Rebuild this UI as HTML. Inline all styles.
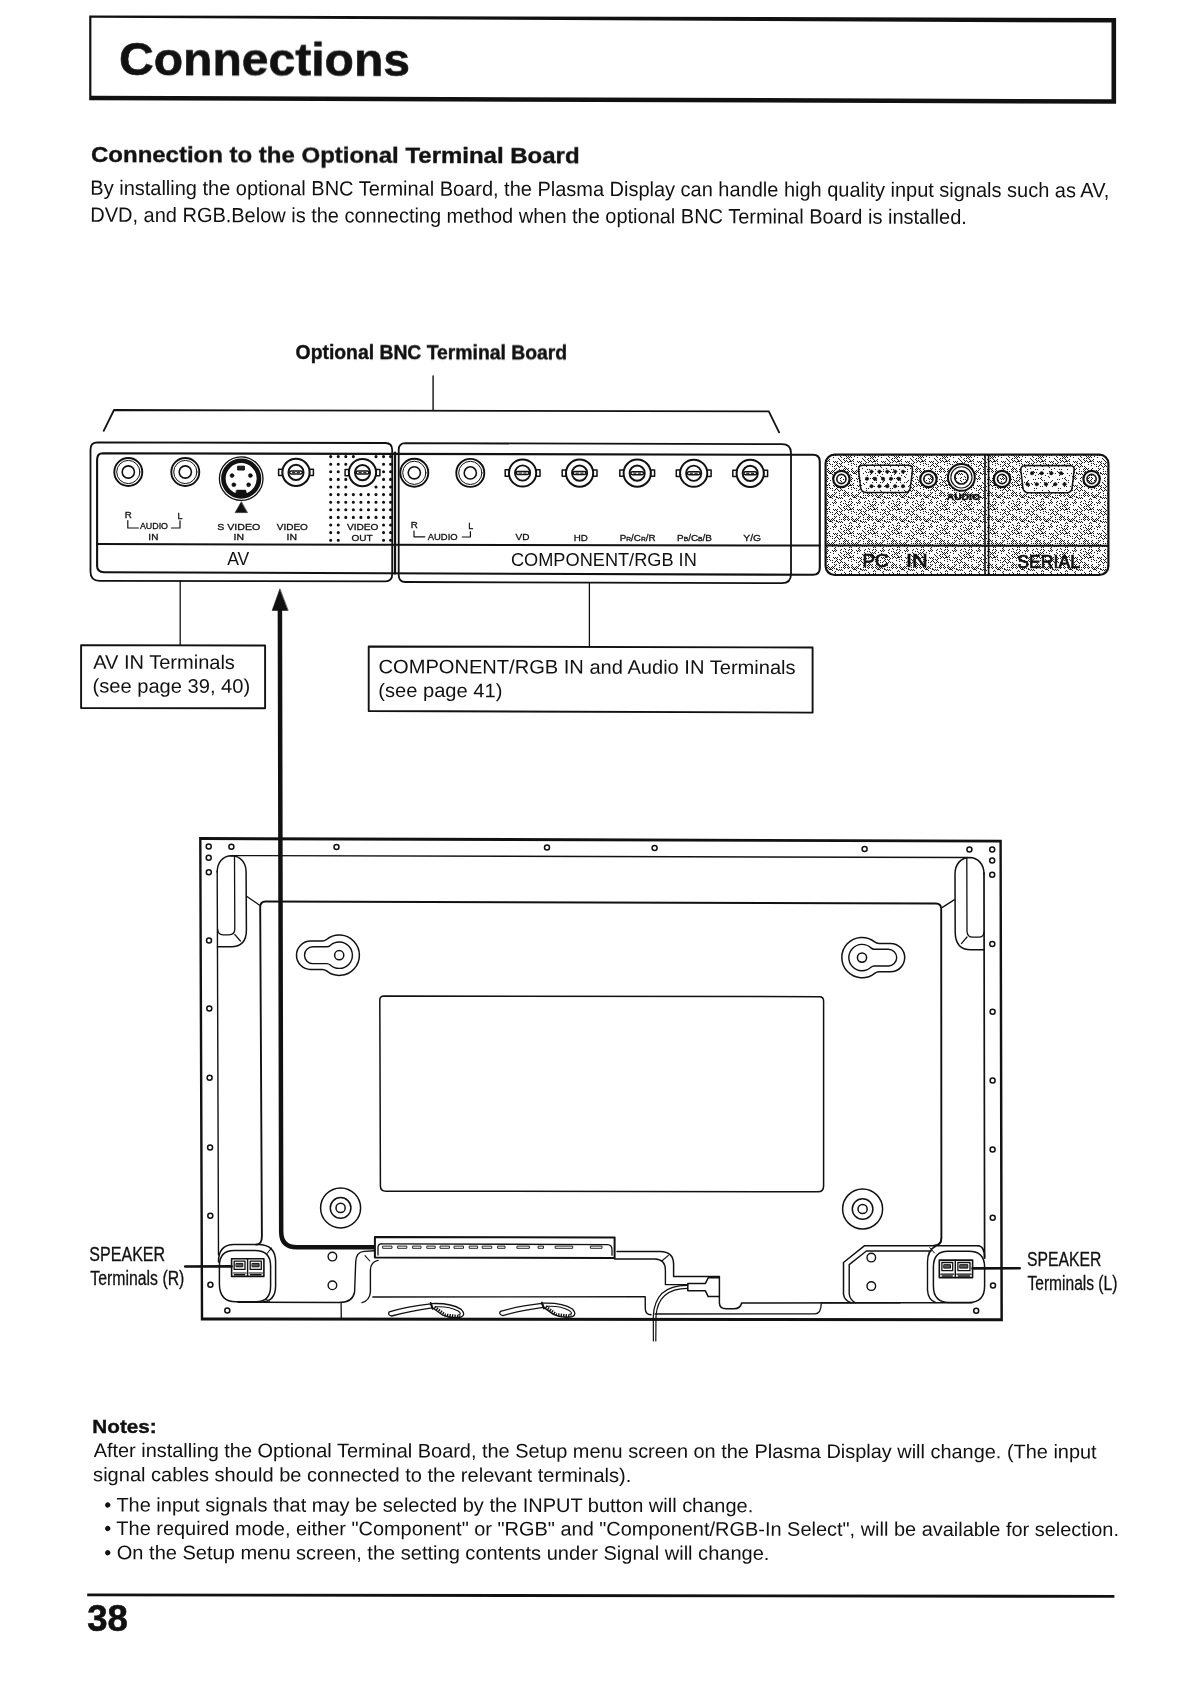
<!DOCTYPE html>
<html lang="en"><head><meta charset="utf-8"><title>Connections</title>
<style>
html,body{margin:0;padding:0;background:#fff;}
body{width:1191px;height:1683px;overflow:hidden;}
svg{display:block;font-family:"Liberation Sans",Arial,Helvetica,sans-serif;}
</style></head><body>
<svg width="1191" height="1683" viewBox="0 0 1191 1683">
<defs>
<pattern id="dither" width="24" height="24" patternUnits="userSpaceOnUse"><rect width="24" height="24" fill="#fcfcfc"/><path d="M0 0h1v1h-1zM6 0h1v1h-1zM8 0h1v1h-1zM10 0h1v1h-1zM14 0h1v1h-1zM1 1h1v1h-1zM7 1h1v1h-1zM9 1h1v1h-1zM11 1h1v1h-1zM17 1h1v1h-1zM4 2h1v1h-1zM6 2h1v1h-1zM8 2h1v1h-1zM22 2h1v1h-1zM3 3h1v1h-1zM9 3h1v1h-1zM13 3h1v1h-1zM23 3h1v1h-1zM0 4h1v1h-1zM4 4h1v1h-1zM6 4h1v1h-1zM10 4h1v1h-1zM12 4h1v1h-1zM1 5h1v1h-1zM5 5h1v1h-1zM7 5h1v1h-1zM9 5h1v1h-1zM10 5h1v1h-1zM11 5h1v1h-1zM13 5h1v1h-1zM17 5h1v1h-1zM19 5h1v1h-1zM21 5h1v1h-1zM2 6h1v1h-1zM4 6h1v1h-1zM8 6h1v1h-1zM18 6h1v1h-1zM20 6h1v1h-1zM1 7h1v1h-1zM11 7h1v1h-1zM13 7h1v1h-1zM21 7h1v1h-1zM23 7h1v1h-1zM0 8h1v1h-1zM8 8h1v1h-1zM14 8h1v1h-1zM16 8h1v1h-1zM20 8h1v1h-1zM1 9h1v1h-1zM11 9h1v1h-1zM19 9h1v1h-1zM21 9h1v1h-1zM0 10h1v1h-1zM2 10h1v1h-1zM4 10h1v1h-1zM16 10h1v1h-1zM18 10h1v1h-1zM22 10h1v1h-1zM5 11h1v1h-1zM23 11h1v1h-1zM4 12h1v1h-1zM6 12h1v1h-1zM8 12h1v1h-1zM12 12h1v1h-1zM18 12h1v1h-1zM20 12h1v1h-1zM3 13h1v1h-1zM5 13h1v1h-1zM7 13h1v1h-1zM11 13h1v1h-1zM19 13h1v1h-1zM23 13h1v1h-1zM4 14h1v1h-1zM8 14h1v1h-1zM12 14h1v1h-1zM16 14h1v1h-1zM18 14h1v1h-1zM1 15h1v1h-1zM3 15h1v1h-1zM5 15h1v1h-1zM7 15h1v1h-1zM9 15h1v1h-1zM11 15h1v1h-1zM13 15h1v1h-1zM15 15h1v1h-1zM17 15h1v1h-1zM23 15h1v1h-1zM4 16h1v1h-1zM8 16h1v1h-1zM12 16h1v1h-1zM14 16h1v1h-1zM16 16h1v1h-1zM18 16h1v1h-1zM20 16h1v1h-1zM1 17h1v1h-1zM13 17h1v1h-1zM14 17h1v1h-1zM15 17h1v1h-1zM20 17h1v1h-1zM21 17h1v1h-1zM23 17h1v1h-1zM0 18h1v1h-1zM2 18h1v1h-1zM10 18h1v1h-1zM16 18h1v1h-1zM22 18h1v1h-1zM9 19h1v1h-1zM11 19h1v1h-1zM19 19h1v1h-1zM4 20h1v1h-1zM18 20h1v1h-1zM1 21h1v1h-1zM5 21h1v1h-1zM9 21h1v1h-1zM11 21h1v1h-1zM19 21h1v1h-1zM0 22h1v1h-1zM8 22h1v1h-1zM12 22h1v1h-1zM16 22h1v1h-1zM18 22h1v1h-1zM20 22h1v1h-1zM3 23h1v1h-1zM5 23h1v1h-1zM11 23h1v1h-1zM17 23h1v1h-1zM19 23h1v1h-1z" fill="#1a1a1a" shape-rendering="crispEdges"/></pattern><pattern id="dither2" width="24" height="24" patternUnits="userSpaceOnUse"><rect width="24" height="24" fill="#fcfcfc"/><path d="M10 0h1v1h-1zM12 0h1v1h-1zM20 0h1v1h-1zM19 1h1v1h-1zM2 2h1v1h-1zM8 2h1v1h-1zM12 2h1v1h-1zM16 2h1v1h-1zM18 2h1v1h-1zM23 3h1v1h-1zM0 4h1v1h-1zM21 5h1v1h-1zM8 6h1v1h-1zM10 6h1v1h-1zM14 6h1v1h-1zM20 6h1v1h-1zM2 8h1v1h-1zM4 8h1v1h-1zM2 10h1v1h-1zM10 10h1v1h-1zM16 10h1v1h-1zM17 11h1v1h-1zM22 12h1v1h-1zM3 13h1v1h-1zM5 13h1v1h-1zM11 13h1v1h-1zM19 13h1v1h-1zM1 15h1v1h-1zM17 15h1v1h-1zM19 15h1v1h-1zM2 16h1v1h-1zM4 16h1v1h-1zM7 17h1v1h-1zM11 17h1v1h-1zM15 17h1v1h-1zM23 17h1v1h-1zM6 18h1v1h-1zM18 18h1v1h-1zM3 19h1v1h-1zM13 19h1v1h-1zM16 20h1v1h-1zM9 21h1v1h-1zM17 21h1v1h-1zM6 22h1v1h-1zM8 22h1v1h-1zM1 23h1v1h-1zM3 23h1v1h-1zM9 23h1v1h-1z" fill="#1a1a1a" shape-rendering="crispEdges"/></pattern>
</defs>
<g stroke="#111" fill="none" stroke-linecap="round" stroke-linejoin="round">
<path d="M89.2 15.4 L1116.1 18 L1116.1 103.8 L89.2 100.2 Z M91.4 17.8 L91.4 95.8 L1111.5 99.3 L1111.5 22.6 Z" fill="#111" fill-rule="evenodd" stroke="none"/>
<line x1="433.1" y1="376" x2="433.1" y2="410" stroke-width="1.4"/>
<path d="M103.7 430.8 L114 410 L768.8 411.4 L779.1 432.3" stroke-width="1.8"/>
<path d="M97.5 442.4 L385.5 443 Q392.2 443 392.2 450 L392.2 574 Q392.2 581.3 385.5 581.3 L99.5 580.8 Q90.5 580.8 90.5 572 L90.5 449.5 Q90.5 442.4 97.5 442.4 Z" stroke-width="1.8"/>
<path d="M103 453.3 L813 454.8 Q819.8 454.8 819.8 461.5 L819.8 568 Q819.8 574.8 813 574.8 L104 572.2 Q97.1 572.2 97.1 566 L97.1 459.5 Q97.1 453.3 103 453.3 Z" stroke-width="2.1"/>
<line x1="97.1" y1="544.1" x2="819.8" y2="545.6" stroke-width="2"/>
<line x1="395" y1="452.6" x2="395" y2="573.6" stroke-width="2.3"/>
<circle cx="128.3" cy="472" r="14" stroke-width="1.9"/>
<circle cx="128.3" cy="472" r="11.6" stroke-width="1.0"/>
<circle cx="128.3" cy="472" r="6.1" stroke-width="1.6"/>
<circle cx="185.3" cy="472" r="14" stroke-width="1.9"/>
<circle cx="185.3" cy="472" r="11.6" stroke-width="1.0"/>
<circle cx="185.3" cy="472" r="6.1" stroke-width="1.6"/>
<circle cx="241.2" cy="478.6" r="21.8" stroke-width="1.3"/>
<circle cx="241.2" cy="478.6" r="17.8" stroke-width="4.6"/>
<circle cx="232" cy="475.6" r="2" stroke-width="0.5" fill="#111"/>
<circle cx="250.4" cy="475.6" r="2" stroke-width="0.5" fill="#111"/>
<circle cx="233.8" cy="484.8" r="2" stroke-width="0.5" fill="#111"/>
<circle cx="248.6" cy="484.8" r="2" stroke-width="0.5" fill="#111"/>
<rect x="238" y="466.2" width="6.4" height="3.8" stroke-width="1" fill="#222"/>
<path d="M236.7 490.1 L245.7 490.1 L247.2 495.6 L235.2 495.6 Z" stroke-width="0.5" fill="#111"/>
<path d="M241.2 502 L235.2 512.6 L247.2 512.6 Z" stroke-width="0.6" fill="#111"/>
<path d="M330.7 456.6h0M338.25 456.6h0M345.8 456.6h0M353.35 456.6h0M376 456.6h0M383.55 456.6h0M330.7 464.2h0M338.25 464.2h0M345.8 464.2h0M383.55 464.2h0M330.7 471.8h0M338.25 471.8h0M383.55 471.8h0M330.7 479.4h0M338.25 479.4h0M345.8 479.4h0M383.55 479.4h0M330.7 487h0M338.25 487h0M345.8 487h0M376 487h0M383.55 487h0M330.7 494.6h0M338.25 494.6h0M345.8 494.6h0M353.35 494.6h0M360.9 494.6h0M368.45 494.6h0M376 494.6h0M383.55 494.6h0M330.7 502.2h0M338.25 502.2h0M345.8 502.2h0M353.35 502.2h0M360.9 502.2h0M368.45 502.2h0M376 502.2h0M383.55 502.2h0M330.7 509.8h0M338.25 509.8h0M345.8 509.8h0M353.35 509.8h0M360.9 509.8h0M368.45 509.8h0M376 509.8h0M383.55 509.8h0M330.7 517.4h0M338.25 517.4h0M345.8 517.4h0M353.35 517.4h0M360.9 517.4h0M368.45 517.4h0M376 517.4h0M383.55 517.4h0M330.7 525h0M338.25 525h0M383.55 525h0M330.7 532.6h0M338.25 532.6h0M383.55 532.6h0M330.7 540.2h0M338.25 540.2h0M383.55 540.2h0M390.6 456.6h0M390.6 464.2h0M390.6 471.8h0M390.6 479.4h0M390.6 487h0M390.6 494.6h0M390.6 502.2h0M390.6 509.8h0M390.6 517.4h0M390.6 525h0M390.6 532.6h0M390.6 540.2h0" stroke-width="3.1" stroke-linecap="round"/>
<rect x="278.6" y="469.2" width="4" height="6.4" stroke-width="1.5"/>
<rect x="309.4" y="469.2" width="4" height="6.4" stroke-width="1.5"/>
<circle cx="296" cy="472.4" r="13.6" stroke-width="2.0" fill="#fff"/>
<circle cx="296" cy="472.4" r="7.6" stroke-width="1.9"/>
<rect x="289.7" y="470.9" width="12.6" height="3" rx="1.4" stroke-width="1.5"/>
<line x1="292.5" y1="472.4" x2="294.8" y2="472.4" stroke-width="1.0"/>
<line x1="297.2" y1="472.4" x2="299.5" y2="472.4" stroke-width="1.0"/>
<rect x="345.1" y="469.4" width="4" height="6.4" stroke-width="1.5"/>
<rect x="375.9" y="469.4" width="4" height="6.4" stroke-width="1.5"/>
<circle cx="362.5" cy="472.6" r="13.6" stroke-width="2.0" fill="#fff"/>
<circle cx="362.5" cy="472.6" r="7.6" stroke-width="1.9"/>
<rect x="356.2" y="471.1" width="12.6" height="3" rx="1.4" stroke-width="1.5"/>
<line x1="359" y1="472.6" x2="361.3" y2="472.6" stroke-width="1.0"/>
<line x1="363.7" y1="472.6" x2="366" y2="472.6" stroke-width="1.0"/>
<path d="M127.8 520.6 L127.8 528 L138.4 528" stroke-width="1.2"/>
<path d="M171.5 528 L180 528 L180 520.8" stroke-width="1.2"/>
<path d="M405.5 443.2 L782 444.2 Q791 444.2 791 453 L791 574 Q791 583.2 782 583.2 L405.5 582 Q398.7 582 398.7 575 L398.7 450 Q398.7 443.2 405.5 443.2 Z" stroke-width="1.8"/>
<circle cx="414.3" cy="472.8" r="14" stroke-width="1.9"/>
<circle cx="414.3" cy="472.8" r="11.6" stroke-width="1.0"/>
<circle cx="414.3" cy="472.8" r="6.1" stroke-width="1.6"/>
<circle cx="470.3" cy="472.9" r="14" stroke-width="1.9"/>
<circle cx="470.3" cy="472.9" r="11.6" stroke-width="1.0"/>
<circle cx="470.3" cy="472.9" r="6.1" stroke-width="1.6"/>
<rect x="505.2" y="469.8" width="4" height="6.4" stroke-width="1.5"/>
<rect x="536" y="469.8" width="4" height="6.4" stroke-width="1.5"/>
<circle cx="522.6" cy="473" r="13.6" stroke-width="2.0" fill="#fff"/>
<circle cx="522.6" cy="473" r="7.6" stroke-width="1.9"/>
<rect x="516.3" y="471.5" width="12.6" height="3" rx="1.4" stroke-width="1.5"/>
<line x1="519.1" y1="473" x2="521.4" y2="473" stroke-width="1.0"/>
<line x1="523.8" y1="473" x2="526.1" y2="473" stroke-width="1.0"/>
<rect x="562.2" y="469.89" width="4" height="6.4" stroke-width="1.5"/>
<rect x="593" y="469.89" width="4" height="6.4" stroke-width="1.5"/>
<circle cx="579.6" cy="473.09" r="13.6" stroke-width="2.0" fill="#fff"/>
<circle cx="579.6" cy="473.09" r="7.6" stroke-width="1.9"/>
<rect x="573.3" y="471.59" width="12.6" height="3" rx="1.4" stroke-width="1.5"/>
<line x1="576.1" y1="473.09" x2="578.4" y2="473.09" stroke-width="1.0"/>
<line x1="580.8" y1="473.09" x2="583.1" y2="473.09" stroke-width="1.0"/>
<rect x="619.8" y="469.97" width="4" height="6.4" stroke-width="1.5"/>
<rect x="650.6" y="469.97" width="4" height="6.4" stroke-width="1.5"/>
<circle cx="637.2" cy="473.17" r="13.6" stroke-width="2.0" fill="#fff"/>
<circle cx="637.2" cy="473.17" r="7.6" stroke-width="1.9"/>
<rect x="630.9" y="471.67" width="12.6" height="3" rx="1.4" stroke-width="1.5"/>
<line x1="633.7" y1="473.17" x2="636" y2="473.17" stroke-width="1.0"/>
<line x1="638.4" y1="473.17" x2="640.7" y2="473.17" stroke-width="1.0"/>
<rect x="676.3" y="470.06" width="4" height="6.4" stroke-width="1.5"/>
<rect x="707.1" y="470.06" width="4" height="6.4" stroke-width="1.5"/>
<circle cx="693.7" cy="473.26" r="13.6" stroke-width="2.0" fill="#fff"/>
<circle cx="693.7" cy="473.26" r="7.6" stroke-width="1.9"/>
<rect x="687.4" y="471.76" width="12.6" height="3" rx="1.4" stroke-width="1.5"/>
<line x1="690.2" y1="473.26" x2="692.5" y2="473.26" stroke-width="1.0"/>
<line x1="694.9" y1="473.26" x2="697.2" y2="473.26" stroke-width="1.0"/>
<rect x="732.8" y="470.14" width="4" height="6.4" stroke-width="1.5"/>
<rect x="763.6" y="470.14" width="4" height="6.4" stroke-width="1.5"/>
<circle cx="750.2" cy="473.34" r="13.6" stroke-width="2.0" fill="#fff"/>
<circle cx="750.2" cy="473.34" r="7.6" stroke-width="1.9"/>
<rect x="743.9" y="471.84" width="12.6" height="3" rx="1.4" stroke-width="1.5"/>
<line x1="746.7" y1="473.34" x2="749" y2="473.34" stroke-width="1.0"/>
<line x1="751.4" y1="473.34" x2="753.7" y2="473.34" stroke-width="1.0"/>
<path d="M414 531 L414 536.8 L424.8 536.8" stroke-width="1.2"/>
<path d="M462.2 537 L470.4 537 L470.4 531.6" stroke-width="1.2"/>
<rect x="825.6" y="454.6" width="282.8" height="120.4" rx="9" stroke-width="2.2" fill="url(#dither)"/>
<line x1="826" y1="545.4" x2="1108" y2="545.8" stroke-width="2.0"/>
<line x1="985" y1="455" x2="985" y2="575" stroke-width="1.6"/>
<line x1="988.6" y1="455" x2="988.6" y2="575" stroke-width="1.6"/>
<circle cx="841.4" cy="479" r="8.2" stroke-width="2.2" fill="#fff"/>
<circle cx="841.4" cy="479" r="4.6" stroke-width="1.6" fill="url(#dither)"/>
<path d="M863 465.3 L908 465.3 Q913 465.3 912.4 470.3 L910.4 487.5 Q909.6 492.5 904.5 492.5 L866.5 492.5 Q861.4 492.5 860.6 487.5 L858.6 470.3 Q858 465.3 863 465.3 Z" stroke-width="1.6" fill="url(#dither2)" stroke-dasharray="2.4 1.2"/>
<circle cx="871.5" cy="471.6" r="1.7" stroke-width="0.5" fill="#111"/>
<circle cx="879.38" cy="471.6" r="1.7" stroke-width="0.5" fill="#111"/>
<circle cx="887.25" cy="471.6" r="1.7" stroke-width="0.5" fill="#111"/>
<circle cx="895.12" cy="471.6" r="1.7" stroke-width="0.5" fill="#111"/>
<circle cx="903" cy="471.6" r="1.7" stroke-width="0.5" fill="#111"/>
<circle cx="867" cy="478.8" r="1.7" stroke-width="0.5" fill="#111"/>
<circle cx="875" cy="478.8" r="1.7" stroke-width="0.5" fill="#111"/>
<circle cx="883" cy="478.8" r="1.7" stroke-width="0.5" fill="#111"/>
<circle cx="891" cy="478.8" r="1.7" stroke-width="0.5" fill="#111"/>
<circle cx="899" cy="478.8" r="1.7" stroke-width="0.5" fill="#111"/>
<circle cx="871.5" cy="486.2" r="1.7" stroke-width="0.5" fill="#111"/>
<circle cx="879.38" cy="486.2" r="1.7" stroke-width="0.5" fill="#111"/>
<circle cx="887.25" cy="486.2" r="1.7" stroke-width="0.5" fill="#111"/>
<circle cx="895.12" cy="486.2" r="1.7" stroke-width="0.5" fill="#111"/>
<circle cx="903" cy="486.2" r="1.7" stroke-width="0.5" fill="#111"/>
<circle cx="928.4" cy="479" r="8.2" stroke-width="2.2" fill="#fff"/>
<circle cx="928.4" cy="479" r="4.6" stroke-width="1.6" fill="url(#dither)"/>
<circle cx="961.4" cy="477.4" r="13.4" stroke-width="2.0" fill="#fff"/>
<circle cx="961.4" cy="477.4" r="10.6" stroke-width="1.1"/>
<circle cx="961.4" cy="477.4" r="6.6" stroke-width="1.7" fill="url(#dither)"/>
<circle cx="1002" cy="479" r="8.2" stroke-width="2.2" fill="#fff"/>
<circle cx="1002" cy="479" r="4.6" stroke-width="1.6" fill="url(#dither)"/>
<path d="M1025.3 465.6 L1069.7 465.6 Q1074.7 465.6 1074.1 470.6 L1072.1 487.8 Q1071.3 492.8 1066.2 492.8 L1028.8 492.8 Q1023.7 492.8 1022.9 487.8 L1020.9 470.6 Q1020.3 465.6 1025.3 465.6 Z" stroke-width="1.6" fill="url(#dither2)" stroke-dasharray="2.4 1.2"/>
<circle cx="1032" cy="473.2" r="1.7" stroke-width="0.5" fill="#111"/>
<circle cx="1041.67" cy="473.2" r="1.7" stroke-width="0.5" fill="#111"/>
<circle cx="1051.33" cy="473.2" r="1.7" stroke-width="0.5" fill="#111"/>
<circle cx="1061" cy="473.2" r="1.7" stroke-width="0.5" fill="#111"/>
<circle cx="1027.5" cy="484.2" r="1.7" stroke-width="0.5" fill="#111"/>
<circle cx="1036.75" cy="484.2" r="1.7" stroke-width="0.5" fill="#111"/>
<circle cx="1046" cy="484.2" r="1.7" stroke-width="0.5" fill="#111"/>
<circle cx="1055.25" cy="484.2" r="1.7" stroke-width="0.5" fill="#111"/>
<circle cx="1064.5" cy="484.2" r="1.7" stroke-width="0.5" fill="#111"/>
<circle cx="1091.6" cy="479" r="8.2" stroke-width="2.2" fill="#fff"/>
<circle cx="1091.6" cy="479" r="4.6" stroke-width="1.6" fill="url(#dither)"/>
<line x1="180.2" y1="581" x2="180.2" y2="645" stroke-width="1.3"/>
<path d="M81.1 645.1 L265.1 645.5 L265.1 708.3 L81.1 708 Z" stroke-width="1.9"/>
<line x1="589.4" y1="583" x2="589.4" y2="646.8" stroke-width="1.3"/>
<path d="M368.7 646.5 L812.6 647.5 L812.6 712.6 L368.7 711 Z" stroke-width="1.9"/>
<path d="M279.9 608 L281.2 1232 Q281.3 1247.3 297 1247.3 L375 1247.3" stroke-width="4.5" stroke-linecap="butt"/>
<path d="M279.8 589.2 L272.2 610.4 L287.8 610.4 Z" stroke-width="0.6" fill="#111"/>
<path d="M199.1 837.1 L1001.8 839.7 L1002.9 1321.2 L200.8 1320.4 Z M201.5 840.1 L203.2 1317.4 L1000.4 1318.2 L999.4 842.6 Z" fill="#111" fill-rule="evenodd" stroke="none"/>
<circle cx="208.7" cy="846.6" r="2.5" stroke-width="1.5"/>
<circle cx="231.4" cy="846.7" r="2.5" stroke-width="1.5"/>
<circle cx="336.5" cy="847.1" r="2.5" stroke-width="1.5"/>
<circle cx="547" cy="847.6" r="2.5" stroke-width="1.5"/>
<circle cx="654.6" cy="848.1" r="2.5" stroke-width="1.5"/>
<circle cx="864.6" cy="849" r="2.5" stroke-width="1.5"/>
<circle cx="969.4" cy="849.5" r="2.5" stroke-width="1.5"/>
<circle cx="992.2" cy="849.5" r="2.5" stroke-width="1.5"/>
<circle cx="208.7" cy="857.8" r="2.5" stroke-width="1.5"/>
<circle cx="208.8" cy="872.3" r="2.5" stroke-width="1.5"/>
<circle cx="209" cy="940.4" r="2.5" stroke-width="1.5"/>
<circle cx="209.3" cy="1008.6" r="2.5" stroke-width="1.5"/>
<circle cx="209.6" cy="1077.8" r="2.5" stroke-width="1.5"/>
<circle cx="210.1" cy="1147.6" r="2.5" stroke-width="1.5"/>
<circle cx="210.3" cy="1215.8" r="2.5" stroke-width="1.5"/>
<circle cx="210.4" cy="1284.8" r="2.5" stroke-width="1.5"/>
<circle cx="227.3" cy="1310.5" r="2.5" stroke-width="1.5"/>
<circle cx="992.2" cy="860.6" r="2.5" stroke-width="1.5"/>
<circle cx="992.2" cy="874.7" r="2.5" stroke-width="1.5"/>
<circle cx="992.3" cy="943.9" r="2.5" stroke-width="1.5"/>
<circle cx="992.6" cy="1011.7" r="2.5" stroke-width="1.5"/>
<circle cx="992.6" cy="1080.4" r="2.5" stroke-width="1.5"/>
<circle cx="992.6" cy="1149.5" r="2.5" stroke-width="1.5"/>
<circle cx="992.7" cy="1217.8" r="2.5" stroke-width="1.5"/>
<circle cx="993" cy="1285.6" r="2.5" stroke-width="1.5"/>
<circle cx="976.2" cy="1310.8" r="2.5" stroke-width="1.5"/>
<path d="M231 855.6 L967.5 857.5" stroke-width="1.4"/>
<path d="M217.2 871 L218.5 1255" stroke-width="1.4"/>
<path d="M984 873 L984.6 1258" stroke-width="1.7"/>
<path d="M217.2 872 C217.2 862 223 855.8 231.6 855.7 C240 855.8 246.1 862 246.1 872 L246.4 930 Q246.4 946.8 231 946.8 L217.4 946.8" stroke-width="1.5"/>
<path d="M234.5 856 L234.8 929 Q234.8 934.8 229 934.8 L223 934.8 Q218 934.8 217.6 929" stroke-width="1.3"/>
<line x1="234.8" y1="934.5" x2="240.4" y2="941" stroke-width="1.2"/>
<path d="M246.6 896.2 L259.6 905.2" stroke-width="1.3"/>
<path d="M256 1244.6 Q262 1244.6 261.9 1236 L260.2 907 Q260.2 901.6 265.5 901.5 L936 903.5 Q941.2 903.6 941.2 909 L941.4 1238 Q941.4 1245.4 934 1245.6" stroke-width="1.9"/>
<path d="M942 907.6 L954.5 899.6" stroke-width="1.3"/>
<path d="M984 874 C984 864 978 857.8 969.4 857.6 C961 857.8 955 864 955 874 L955.2 932 Q955.2 949.8 971 949.8 L984.2 949.8" stroke-width="1.5"/>
<path d="M966.8 858 L967 931 Q967 937.2 973 937.2 L979 937.2 Q983.6 937.2 984 932" stroke-width="1.3"/>
<line x1="967" y1="937" x2="961.4" y2="943.6" stroke-width="1.2"/>
<path d="M322.16 941 L310.7 941 A14.2 14.2 0 0 0 310.7 969.4 L322.16 969.4 A7 7 0 0 1 326.54 970.94 A20.2 20.2 0 1 0 326.54 939.46 A7 7 0 0 1 322.16 941 Z" stroke-width="1.5"/>
<path d="M326.88 946.8 L312.9 946.8 A8.4 8.4 0 0 0 312.9 963.6 L326.88 963.6 A5 5 0 0 1 330.27 964.92 A13.2 13.2 0 1 0 330.27 945.48 A5 5 0 0 1 326.88 946.8 Z" stroke-width="1.4"/>
<circle cx="339.2" cy="955.2" r="4.6" stroke-width="1.5"/>
<path d="M879.04 943.4 L890.5 943.4 A14.2 14.2 0 0 1 890.5 971.8 L879.04 971.8 A7 7 0 0 0 874.66 973.34 A20.2 20.2 0 1 1 874.66 941.86 A7 7 0 0 0 879.04 943.4 Z" stroke-width="1.5"/>
<path d="M874.32 949.2 L888.3 949.2 A8.4 8.4 0 0 1 888.3 966 L874.32 966 A5 5 0 0 0 870.93 967.32 A13.2 13.2 0 1 1 870.93 947.88 A5 5 0 0 0 874.32 949.2 Z" stroke-width="1.4"/>
<circle cx="862" cy="957.6" r="4.6" stroke-width="1.5"/>
<path d="M384 995.9 L819.5 996.7 Q823.6 996.8 823.6 1001 L823.6 1186 Q823.6 1191.8 818 1191.8 L386 1191.2 Q380.4 1191.2 380.4 1186 L379.8 1000 Q379.8 995.9 384 995.9 Z" stroke-width="1.5"/>
<circle cx="340.6" cy="1207.9" r="20" stroke-width="1.5"/>
<circle cx="340.6" cy="1207.9" r="10.3" stroke-width="1.5"/>
<circle cx="340.6" cy="1207.9" r="4.6" stroke-width="1.5"/>
<circle cx="862.6" cy="1209" r="20" stroke-width="1.5"/>
<circle cx="862.6" cy="1209" r="10.3" stroke-width="1.5"/>
<circle cx="862.6" cy="1209" r="4.6" stroke-width="1.5"/>
<path d="M374.9 1237.1 L614.6 1237.4 L614.6 1257.9 L374.9 1257.6 Z" stroke-width="2.0"/>
<path d="M381.5 1243.8 L607.5 1244.6 Q612 1244.8 612 1249.5 L612 1255.2" stroke-width="1.3"/>
<path d="M378 1255 L378 1247.5 Q378 1243.8 381.5 1243.8" stroke-width="1.3"/>
<rect x="383" y="1246.1" width="9" height="2.2" stroke-width="0.9"/>
<rect x="398" y="1246.1" width="8.8" height="2.2" stroke-width="0.9"/>
<rect x="413" y="1246.1" width="8" height="2.2" stroke-width="0.9"/>
<rect x="427.2" y="1246.1" width="8" height="2.2" stroke-width="0.9"/>
<rect x="440.4" y="1246.1" width="9" height="2.2" stroke-width="0.9"/>
<rect x="454.4" y="1246.1" width="9.1" height="2.2" stroke-width="0.9"/>
<rect x="469.6" y="1246.1" width="8" height="2.2" stroke-width="0.9"/>
<rect x="482.6" y="1246.1" width="9.1" height="2.2" stroke-width="0.9"/>
<rect x="498" y="1246.1" width="7" height="2.2" stroke-width="0.9"/>
<rect x="517.3" y="1246.1" width="12.1" height="2.2" stroke-width="0.9"/>
<rect x="538.5" y="1246.1" width="5" height="2.2" stroke-width="0.9"/>
<rect x="555.6" y="1246.1" width="17.1" height="2.2" stroke-width="0.9"/>
<rect x="590.8" y="1246.1" width="11.2" height="2.2" stroke-width="0.9"/>
<circle cx="332.4" cy="1256.6" r="4.3" stroke-width="1.4"/>
<circle cx="332.4" cy="1285.3" r="4.3" stroke-width="1.4"/>
<circle cx="871.3" cy="1257.6" r="4.3" stroke-width="1.4"/>
<circle cx="871.3" cy="1286.1" r="4.3" stroke-width="1.4"/>
<path d="M218.5 1262 Q218.5 1244.6 234 1244.6 L258 1244.6 Q275.6 1244.6 275.6 1262 L275.6 1286 Q275.6 1302.2 260 1302.2" stroke-width="1.5"/>
<path d="M219.4 1266 Q219.4 1250.4 234 1250.4 L255 1250.4 Q270.6 1250.4 270.6 1266 L270.6 1286 Q270.6 1301.8 256 1301.8 L236 1301.8 Q219.4 1301.8 219.4 1284 Z" stroke-width="1.5"/>
<line x1="267" y1="1253.5" x2="271.5" y2="1248" stroke-width="1.1"/>
<line x1="266" y1="1299" x2="270" y2="1302" stroke-width="1.0"/>
<rect x="231.6" y="1258.8" width="32.3" height="17.6" stroke-width="1.6" fill="#fff"/>
<line x1="247.6" y1="1258.8" x2="247.6" y2="1276.4" stroke-width="1.4"/>
<rect x="234.2" y="1261.2" width="10.8" height="8.2" stroke-width="1.3"/>
<rect x="236.4" y="1263.4" width="6.4" height="3.4" stroke-width="1.0" fill="#555"/>
<line x1="233.1" y1="1273" x2="246.1" y2="1273" stroke-width="1.2"/>
<line x1="234.6" y1="1274.8" x2="244.6" y2="1274.8" stroke-width="1.6"/>
<rect x="250.2" y="1261.2" width="11.1" height="8.2" stroke-width="1.3"/>
<rect x="252.4" y="1263.4" width="6.7" height="3.4" stroke-width="1.0" fill="#555"/>
<line x1="249.1" y1="1273" x2="262.4" y2="1273" stroke-width="1.2"/>
<line x1="250.6" y1="1274.8" x2="260.9" y2="1274.8" stroke-width="1.6"/>
<path d="M238 1302.2 L340 1302.4" stroke-width="1.5"/>
<line x1="341.1" y1="1302.4" x2="341.3" y2="1318.5" stroke-width="1.3"/>
<path d="M340 1302.4 Q352.6 1302.4 354.6 1292 L355.7 1262 Q356 1252 364 1251.4 L374.6 1250.8" stroke-width="1.4"/>
<path d="M362 1302.6 Q369.6 1300.6 370.4 1292 L370.4 1270 Q370.6 1262 378 1260.4" stroke-width="1.4"/>
<line x1="365" y1="1255.6" x2="369.8" y2="1261" stroke-width="1.1"/>
<path d="M372.8 1297 L645.2 1296.7 L645.3 1309 Q645.6 1314.6 651 1314.8" stroke-width="1.4"/>
<path d="M617 1251.4 L660 1251.4 Q673.6 1251.6 673.6 1264 L673.6 1276.6 L719.4 1276.6 L719.4 1303 Q719.6 1308.8 726 1308.8 L734 1308.8 Q740.5 1308.6 741.6 1303 L900 1302.8" stroke-width="1.5"/>
<path d="M614.6 1259 L655 1259 Q665.4 1259.4 665.4 1270 L665.4 1284.6 L687.6 1284.6" stroke-width="1.4"/>
<line x1="662.4" y1="1260.5" x2="668.4" y2="1255.4" stroke-width="1.1"/>
<path d="M687.8 1283.4 L705.4 1283.4 L708.2 1277.8 L719.2 1277.8 M687.8 1283.4 L687.8 1290.8 L705.4 1290.8 L708.2 1296.6 L719.2 1296.6" stroke-width="1.5"/>
<path d="M687.6 1285.4 Q655 1285 653.3 1316 L653.4 1341" stroke-width="1.2"/>
<path d="M687.6 1288.4 Q658 1288.6 656 1316 L655.8 1341" stroke-width="1.2"/>
<path d="M655 1314 L815 1313.9 Q821 1313.6 821.2 1304" stroke-width="1.3"/>
<path d="M978 1245.8 L864.6 1245.7 L843.5 1262.5 L843.5 1294 Q844 1300 851 1302.8" stroke-width="1.5"/>
<path d="M931 1251 L866.4 1251 L849.2 1264.6 L849.2 1294 Q850 1300 855.6 1302.8" stroke-width="1.4"/>
<path d="M978 1245.8 Q984.6 1246 984.6 1258" stroke-width="1.5"/>
<path d="M941.4 1238 Q941.4 1245.6 934 1245.7" stroke-width="1.4"/>
<path d="M927.5 1290 L927.5 1262 Q927.5 1250 936 1246" stroke-width="1.4"/>
<path d="M927.5 1290 Q928 1300 936 1302.6" stroke-width="1.4"/>
<path d="M933.4 1267 Q933.4 1251.2 948 1251.2 L969 1251.2 Q984.6 1251.2 984.6 1267 L984.6 1286 Q984.6 1302.4 969 1302.4 L949 1302.4 Q933.4 1302.4 933.4 1286 Z" stroke-width="1.5"/>
<line x1="929.8" y1="1247.6" x2="934.5" y2="1253" stroke-width="1.0"/>
<rect x="939.3" y="1260.1" width="33.3" height="17.5" stroke-width="1.6" fill="#fff"/>
<line x1="955.3" y1="1260.1" x2="955.3" y2="1277.6" stroke-width="1.4"/>
<rect x="941.9" y="1262.5" width="10.8" height="8.2" stroke-width="1.3"/>
<rect x="944.1" y="1264.7" width="6.4" height="3.4" stroke-width="1.0" fill="#555"/>
<line x1="940.8" y1="1274.2" x2="953.8" y2="1274.2" stroke-width="1.2"/>
<line x1="942.3" y1="1276" x2="952.3" y2="1276" stroke-width="1.6"/>
<rect x="957.9" y="1262.5" width="12.1" height="8.2" stroke-width="1.3"/>
<rect x="960.1" y="1264.7" width="7.7" height="3.4" stroke-width="1.0" fill="#555"/>
<line x1="956.8" y1="1274.2" x2="971.1" y2="1274.2" stroke-width="1.2"/>
<line x1="958.3" y1="1276" x2="969.6" y2="1276" stroke-width="1.6"/>
<path d="M821 1302.8 L972 1302.8" stroke-width="1.5"/>
<path d="M185.2 1266.5 L231.6 1266.4" stroke-width="2.6"/>
<path d="M972.6 1268.4 L1019.7 1268.3" stroke-width="2.6"/>
<path d="M500.4 1311.4 Q518.4 1306 541.9 1303.4 L543.4 1307.4 Q520.4 1310.6 502.8 1315.6 Q498.4 1314.6 500.4 1311.4 Z" stroke-width="1.3"/>
<path d="M541.9 1302.6 L544 1308.4" stroke-width="2.0"/>
<path d="M542.4 1303.2 Q562.4 1302.4 572.4 1309 Q577.4 1314.4 572.4 1316.6 Q562.4 1318.6 553.4 1314.4 L544 1307.6" stroke-width="1.3"/>
<path d="M546.4 1306.4 Q560.4 1305.6 569.4 1310.6 Q573.4 1313.6 569.8 1314.4" stroke-width="1.1"/>
<path d="M545.8 1306.6 L556.4 1314.6 L571.4 1316.2" stroke-width="3.0" stroke-dasharray="1.4 1.1" stroke-linecap="butt"/>
<path d="M389.2 1311.8 Q407.2 1306.4 430.7 1303.8 L432.2 1307.8 Q409.2 1311 391.6 1316 Q387.2 1315 389.2 1311.8 Z" stroke-width="1.3"/>
<path d="M430.7 1303 L432.8 1308.8" stroke-width="2.0"/>
<path d="M431.2 1303.6 Q451.2 1302.8 461.2 1309.4 Q466.2 1314.8 461.2 1317 Q451.2 1319 442.2 1314.8 L432.8 1308" stroke-width="1.3"/>
<path d="M435.2 1306.8 Q449.2 1306 458.2 1311 Q462.2 1314 458.6 1314.8" stroke-width="1.1"/>
<path d="M434.6 1307 L445.2 1315 L460.2 1316.6" stroke-width="3.0" stroke-dasharray="1.4 1.1" stroke-linecap="butt"/>
<path d="M87.2 1594.9 L1114.4 1596.4" stroke-width="2.8" stroke-linecap="butt"/>
</g>
<g fill="#111" stroke="#111" stroke-width="0" opacity="0.999">
<text x="119.03" y="75" font-size="46" font-weight="bold" textLength="290.94" lengthAdjust="spacingAndGlyphs" transform="rotate(0.18 119.03 75)" stroke-width="0.6">Connections</text>
<text x="91.02" y="162.2" font-size="22.7" font-weight="bold" textLength="488.56" lengthAdjust="spacingAndGlyphs" transform="rotate(0.15 91.02 162.2)" stroke-width="0.4">Connection to the Optional Terminal Board</text>
<text x="90.37" y="194.8" font-size="20.6" textLength="1018.91" lengthAdjust="spacingAndGlyphs" transform="rotate(0.14 90.37 194.8)">By installing the optional BNC Terminal Board, the Plasma Display can handle high quality input signals such as AV,</text>
<text x="90.37" y="221.8" font-size="20.6" textLength="876.45" lengthAdjust="spacingAndGlyphs" transform="rotate(0.14 90.37 221.8)">DVD, and RGB.Below is the connecting method when the optional BNC Terminal Board is installed.</text>
<text x="295.61" y="359" font-size="19.4" font-weight="bold" textLength="271.56" lengthAdjust="spacingAndGlyphs" transform="rotate(0.1 295.61 359)" stroke-width="0.4">Optional BNC Terminal Board</text>
<text x="124.8" y="517.8" font-size="8.8" textLength="7.05" lengthAdjust="spacingAndGlyphs" stroke-width="0.3">R</text>
<text x="177.56" y="518.6" font-size="8.8" textLength="5.05" lengthAdjust="spacingAndGlyphs" stroke-width="0.3">L</text>
<text x="139.98" y="528.8" font-size="8.6" textLength="28.04" lengthAdjust="spacingAndGlyphs" stroke-width="0.3">AUDIO</text>
<text x="148.38" y="540.2" font-size="8.6" textLength="9.93" lengthAdjust="spacingAndGlyphs" stroke-width="0.3">IN</text>
<text x="217.22" y="529.8" font-size="9" textLength="42.99" lengthAdjust="spacingAndGlyphs" stroke-width="0.3">S VIDEO</text>
<text x="233.54" y="540" font-size="9" textLength="10.41" lengthAdjust="spacingAndGlyphs" stroke-width="0.3">IN</text>
<text x="276.76" y="529.6" font-size="9" textLength="31.12" lengthAdjust="spacingAndGlyphs" stroke-width="0.3">VIDEO</text>
<text x="286.64" y="540.4" font-size="9" textLength="10.41" lengthAdjust="spacingAndGlyphs" stroke-width="0.3">IN</text>
<text x="346.96" y="530.2" font-size="9" textLength="31.53" lengthAdjust="spacingAndGlyphs" stroke-width="0.3">VIDEO</text>
<text x="351.52" y="540.8" font-size="9" textLength="21.21" lengthAdjust="spacingAndGlyphs" stroke-width="0.3">OUT</text>
<text x="227.17" y="565" font-size="17.5" textLength="22.11" lengthAdjust="spacingAndGlyphs">AV</text>
<text x="410.7" y="528.2" font-size="8.8" textLength="7.05" lengthAdjust="spacingAndGlyphs" stroke-width="0.3">R</text>
<text x="468.26" y="529.2" font-size="8.8" textLength="5.05" lengthAdjust="spacingAndGlyphs" stroke-width="0.3">L</text>
<text x="427.78" y="540.2" font-size="8.8" textLength="29.87" lengthAdjust="spacingAndGlyphs" stroke-width="0.3">AUDIO</text>
<text x="515.56" y="540.4" font-size="9.2" textLength="13.92" lengthAdjust="spacingAndGlyphs" stroke-width="0.3">VD</text>
<text x="573.8" y="540.5" font-size="9.2" textLength="14.06" lengthAdjust="spacingAndGlyphs" stroke-width="0.3">HD</text>
<text x="619.8" y="540.7" font-size="9.2" textLength="35.7" lengthAdjust="spacingAndGlyphs" stroke-width="0.3">P<tspan font-size="6.2">R</tspan>/C<tspan font-size="6.2">R</tspan>/R</text>
<text x="677" y="540.8" font-size="9.2" textLength="35" lengthAdjust="spacingAndGlyphs" stroke-width="0.3">P<tspan font-size="6.2">B</tspan>/C<tspan font-size="6.2">B</tspan>/B</text>
<text x="743.27" y="540.9" font-size="9.2" textLength="17.8" lengthAdjust="spacingAndGlyphs" stroke-width="0.3">Y/G</text>
<text x="510.98" y="565.5" font-size="17.6" textLength="185.81" lengthAdjust="spacingAndGlyphs">COMPONENT/RGB IN</text>
<text x="946.74" y="500.4" font-size="9" font-weight="bold" textLength="33.19" lengthAdjust="spacingAndGlyphs" stroke-width="0.5">AUDIO</text>
<text x="862.45" y="567.4" font-size="18.4" textLength="26.27" lengthAdjust="spacingAndGlyphs" stroke-width="0.7">PC</text>
<text x="905.99" y="567.4" font-size="18.4" textLength="21.79" lengthAdjust="spacingAndGlyphs" stroke-width="0.7">IN</text>
<text x="1017.2" y="567.8" font-size="18.4" textLength="62.89" lengthAdjust="spacingAndGlyphs" stroke-width="0.7">SERIAL</text>
<text x="93.16" y="668.7" font-size="19.6" textLength="141.74" lengthAdjust="spacingAndGlyphs" transform="rotate(0.1 93.16 668.7)">AV IN Terminals</text>
<text x="92.55" y="692.6" font-size="19.6" textLength="157.59" lengthAdjust="spacingAndGlyphs" transform="rotate(0.1 92.55 692.6)">(see page 39, 40)</text>
<text x="378.59" y="673.2" font-size="19.5" textLength="417.03" lengthAdjust="spacingAndGlyphs" transform="rotate(0.12 378.59 673.2)">COMPONENT/RGB IN and Audio IN Terminals</text>
<text x="378.35" y="697" font-size="19.5" textLength="123.99" lengthAdjust="spacingAndGlyphs" transform="rotate(0.1 378.35 697)">(see page 41)</text>
<text x="89.37" y="1260.8" font-size="19.5" textLength="75.77" lengthAdjust="spacingAndGlyphs" stroke-width="0.3">SPEAKER</text>
<text x="90.35" y="1285" font-size="19.5" textLength="94.01" lengthAdjust="spacingAndGlyphs" stroke-width="0.3">Terminals (R)</text>
<text x="1027.09" y="1265.6" font-size="19.5" textLength="74.24" lengthAdjust="spacingAndGlyphs" stroke-width="0.3">SPEAKER</text>
<text x="1027.46" y="1289.8" font-size="19.5" textLength="89.89" lengthAdjust="spacingAndGlyphs" stroke-width="0.3">Terminals (L)</text>
<text x="92.32" y="1432.8" font-size="19.2" font-weight="bold" textLength="64.37" lengthAdjust="spacingAndGlyphs" stroke-width="0.4">Notes:</text>
<text x="93.66" y="1457" font-size="19.6" textLength="1002.98" lengthAdjust="spacingAndGlyphs" transform="rotate(0.08 93.66 1457)">After installing the Optional Terminal Board, the Setup menu screen on the Plasma Display will change. (The input</text>
<text x="93.14" y="1481.2" font-size="19.6" textLength="538.19" lengthAdjust="spacingAndGlyphs" transform="rotate(0.08 93.14 1481.2)">signal cables should be connected to the relevant terminals).</text>
<text x="104.21" y="1511.4" font-size="19.6" textLength="649.01" lengthAdjust="spacingAndGlyphs" transform="rotate(0.07 104.21 1511.4)">• The input signals that may be selected by the INPUT button will change.</text>
<text x="104.21" y="1535" font-size="19.6" textLength="1014.81" lengthAdjust="spacingAndGlyphs" transform="rotate(0.06 104.21 1535)">• The required mode, either "Component" or "RGB" and "Component/RGB-In Select", will be available for selection.</text>
<text x="104.21" y="1559.2" font-size="19.6" textLength="665.22" lengthAdjust="spacingAndGlyphs" transform="rotate(0.06 104.21 1559.2)">• On the Setup menu screen, the setting contents under Signal will change.</text>
<text x="87.16" y="1631" font-size="37" font-weight="bold" textLength="40.66" lengthAdjust="spacingAndGlyphs" stroke-width="0.6">38</text>
</g>
</svg>
</body></html>
